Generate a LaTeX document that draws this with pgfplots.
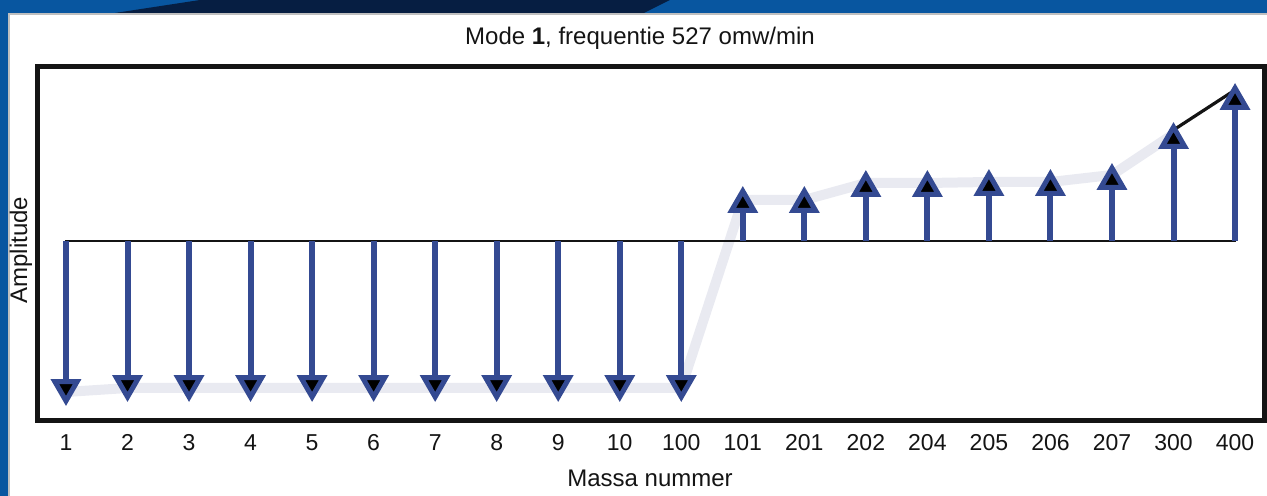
\documentclass[border=0pt]{standalone}
\usepackage{fontspec}
\setmainfont{Liberation Sans}
\usepackage{pgfplots}
\pgfplotsset{compat=1.18}
\usepackage{pgfplotstable}
\definecolor{stemblue}{RGB}{52,74,146}
\definecolor{ghost}{RGB}{233,234,241}
\definecolor{slideblue}{RGB}{8,86,160}
\definecolor{slidenavy}{RGB}{6,30,66}
\definecolor{ink}{RGB}{20,20,20}

% x = position of the mass, c = centre of the arrow head, s = end of the stem, z = zero
\pgfplotstableread{
x c s z
0 -147 -156 0
1 -143 -152 0
2 -143 -152 0
3 -143 -152 0
4 -143 -152 0
5 -143 -152 0
6 -143 -152 0
7 -143 -152 0
8 -143 -152 0
9 -143 -152 0
10 -143 -152 0
}\downdata
\pgfplotstableread{
x c s z
11 37 43 0
12 37 43 0
13 53 59 0
14 53 59 0
15 54 60 0
16 54 60 0
17 60 66 0
18 101 107 0
19 140 146 0
}\updata
% grey mode-shape line
\pgfplotstableread{
x g
0 -151
1 -147
2 -147
3 -147
4 -147
5 -147
6 -147
7 -147
8 -147
9 -147
10 -147
11 41
12 41
13 58
14 58
15 59
16 59
17 66
18 107
}\ghostdata

\begin{document}
\begin{tikzpicture}
\path[use as bounding box] (0pt,0pt) rectangle (633.5pt,248pt);
\fill[slideblue] (0pt,0pt) rectangle (4pt,248pt);
\fill[slideblue] (0pt,241.5pt) rectangle (633.5pt,248pt);
\fill[slidenavy] (57.5pt,241.5pt) -- (100pt,248pt) -- (335pt,248pt) -- (322pt,241.5pt) -- cycle;
\draw[black!25, line width=0.8pt] (4.4pt,0pt) -- (4.4pt,241.1pt) -- (633.5pt,241.1pt);
\begin{axis}[
  anchor=south west, at={(18.75pt,37.75pt)},
  width=613.25pt, height=177pt, scale only axis,
  xmin=-0.463, xmax=19.471, ymin=-179.5, ymax=174.5,
  axis line style={line width=2.5pt, color=ink},
  xtick={0,...,19},
  xticklabels={1,2,3,4,5,6,7,8,9,10,100,101,201,202,204,205,206,207,300,400},
  ytick=\empty, major tick length=0pt,
  /pgf/number format/assume math mode=true,
  tick label style={font=\fontsize{11.5}{13}\selectfont, text=ink},
  xticklabel style={anchor=base, yshift=-15.25pt},
  title={Mode \textbf{1}, frequentie 527 omw/min},
  title style={at={(axis description cs:0.4912,1)}, anchor=base, yshift=4.75pt,
    font=\fontsize{12}{14}\selectfont, text=ink, inner sep=0pt},
  xlabel={Massa nummer},
  xlabel style={at={(axis description cs:0.4994,0)}, anchor=base, yshift=-33.25pt,
    font=\fontsize{12}{14}\selectfont, text=ink, inner sep=0pt},
  ylabel={Amplitude},
  ylabel style={at={(axis description cs:-0.00856,0.4816)}, anchor=base,
    font=\fontsize{12}{14}\selectfont, text=ink, inner sep=0pt},
]
% grey mode shape
\addplot[ghost, line width=5pt, line join=round] table[x=x, y=g]{\ghostdata};
% zero line
\addplot[ink, line width=1pt] coordinates {(-0.02,0) (19.02,0)};
% black segment between the last two masses
\addplot[ink, line width=1.6pt] coordinates {(18,111) (19,151)};
% arrow heads
\addplot[only marks, mark=triangle*, mark size=6.45pt,
  mark options={draw=stemblue, fill=black, line width=2.5pt, rotate=180}]
  table[x=x, y=c]{\downdata};
\addplot[only marks, mark=triangle*, mark size=6.45pt,
  mark options={draw=stemblue, fill=black, line width=2.5pt}]
  table[x=x, y=c]{\updata};
% stems
\addplot[stemblue, line width=3pt, quiver={u=0, v=\thisrow{s}}]
  table[x=x, y=z]{\downdata};
\addplot[stemblue, line width=3pt, quiver={u=0, v=\thisrow{s}}]
  table[x=x, y=z]{\updata};
\end{axis}
\end{tikzpicture}
\end{document}
